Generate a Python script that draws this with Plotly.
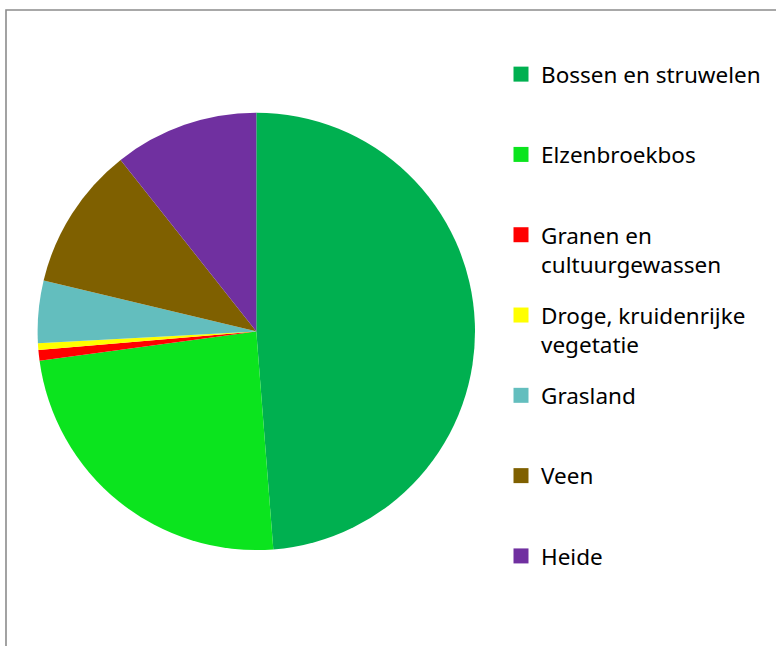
import plotly.graph_objects as go

# Land-cover categories and their share (%) of the area
labels = [
    "Bossen en struwelen",
    "Elzenbroekbos",
    "Granen en<br>cultuurgewassen",
    "Droge, kruidenrijke<br>vegetatie",
    "Grasland",
    "Veen",
    "Heide",
]
shares = [48.75, 24.1, 0.78, 0.5, 4.6, 10.6, 10.65]
colors = ["#00B050", "#0BE41E", "#FF0000", "#FFFF00", "#63BEBE", "#7F6000", "#7030A0"]

W, H = 776, 646
cx, cy, r = 256.3, 331.4, 218.7

fig = go.Figure()
fig.add_trace(
    go.Pie(
        labels=labels,
        values=shares,
        marker=dict(colors=colors, line=dict(width=0)),
        sort=False,
        direction="clockwise",
        rotation=0,
        textinfo="none",
        hoverinfo="percent",
        showlegend=False,
        domain=dict(
            x=[(cx - r) / W, (cx + r) / W],
            y=[1 - (cy + r) / H, 1 - (cy - r) / H],
        ),
    )
)

# legend: one square key per category, each entry padded to two lines
# and placed in its own group so the entries sit on an even grid
for i, (lab, col) in enumerate(zip(labels, colors)):
    n = lab.count("<br>") + 1
    fig.add_trace(
        go.Scatter(
            x=[None],
            y=[None],
            mode="markers",
            marker=dict(symbol="square", size=15, color=col, line=dict(width=0)),
            name=lab + "<br> " * (2 - n),
            legendgroup="g%d" % i,
            showlegend=True,
            hoverinfo="skip",
        )
    )

fig.update_layout(
    width=W,
    height=H,
    margin=dict(l=0, r=0, t=0, b=0),
    paper_bgcolor="white",
    plot_bgcolor="white",
    font=dict(family="Noto Sans", color="#000000"),
    xaxis=dict(visible=False),
    yaxis=dict(visible=False),
    showlegend=True,
    legend=dict(
        x=501 / W,
        xanchor="left",
        y=1 - 53 / H,
        yanchor="top",
        valign="top",
        font=dict(family="Noto Sans", size=22.5, color="#000000"),
        bgcolor="rgba(0,0,0,0)",
        tracegroupgap=18.8,
        itemsizing="trace",
    ),
    shapes=[
        dict(
            type="rect",
            xref="paper",
            yref="paper",
            x0=6 / W,
            x1=1.02,
            y0=-0.02,
            y1=1 - 10 / H,
            line=dict(color="#8C8C8C", width=1.6),
            fillcolor="rgba(0,0,0,0)",
            layer="below",
        )
    ],
)

fig.write_html("out.html")
